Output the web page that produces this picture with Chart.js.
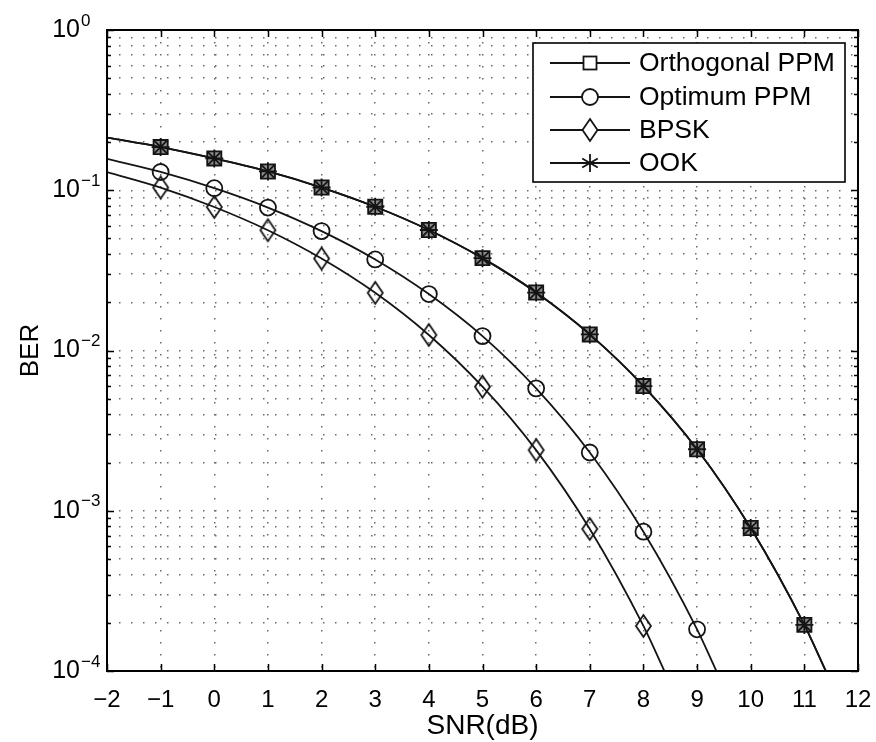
<!DOCTYPE html>
<html>
<head>
<meta charset="utf-8">
<script src="https://cdn.jsdelivr.net/npm/chart.js@4.4.1/dist/chart.umd.min.js"></script>
<style>
html,body{margin:0;padding:0;background:#fff;}
canvas{display:block;}
</style>
</head>
<body>
<canvas id="c" width="876" height="742"></canvas>
<script>
// ---------- data ----------
const snrMarkers = [-1, 0, 1, 2, 3, 4, 5, 6, 7, 8, 9, 10, 11];

const orthogonalPPM = [0.186, 0.158, 0.131, 0.104, 0.0789, 0.0565, 0.0377, 0.0230, 0.0126, 0.0060, 0.00242, 0.00078, 0.000194];
const optimumPPM    = [0.130, 0.103, 0.078, 0.0556, 0.0370, 0.0225, 0.0123, 0.0058, 0.00231, 0.00074, 0.000182];
const bpsk          = [0.104, 0.0786, 0.0563, 0.0375, 0.0229, 0.0125, 0.00595, 0.00239, 0.00077, 0.000191];
const ook           = [0.186, 0.158, 0.131, 0.104, 0.0789, 0.0565, 0.0377, 0.0230, 0.0126, 0.0060, 0.00242, 0.00078, 0.000194];

// where each curve enters (left edge) and leaves (bottom edge) the plot
const orthogonalEnds = [[-2, 0.213], [11.40, 0.0001]];
const optimumEnds    = [[-2, 0.157], [9.36, 0.0001]];
const bpskEnds       = [[-2, 0.130], [8.39, 0.0001]];
const ookEnds        = [[-2, 0.213], [11.40, 0.0001]];

const seriesNames = ['Orthogonal PPM', 'Optimum PPM', 'BPSK', 'OOK'];

const xTickValues = [-2, -1, 0, 1, 2, 3, 4, 5, 6, 7, 8, 9, 10, 11, 12];
const xTickLabels = ['\u22122', '\u22121', '0', '1', '2', '3', '4', '5', '6', '7', '8', '9', '10', '11', '12'];
const yDecades = [1, 0.1, 0.01, 0.001, 0.0001];
const yExponents = ['0', '\u22121', '\u22122', '\u22123', '\u22124'];

// ---------- build ----------
const FONT = "'Liberation Sans', Arial, Helvetica, sans-serif";
Chart.defaults.font.family = FONT;
Chart.defaults.color = '#000';

const yTickValues = [];
[0.0001, 0.001, 0.01, 0.1].forEach(d => { for (let s = 1; s <= 9; s++) yTickValues.push(+(d * s).toPrecision(3)); });
yTickValues.push(1);
const isDecade = v => Math.abs(Math.log10(v) - Math.round(Math.log10(v))) < 1e-9;

const LINE = '#141414';

function diamondCanvas(w, h, lw) {
  const c = document.createElement('canvas');
  c.width = Math.ceil(w + lw * 2 + 2); c.height = Math.ceil(h + lw * 2 + 2);
  const g = c.getContext('2d');
  const cx = c.width / 2, cy = c.height / 2;
  g.strokeStyle = LINE; g.lineWidth = lw; g.lineJoin = 'miter';
  g.beginPath();
  g.moveTo(cx, cy - h / 2); g.lineTo(cx + w / 2, cy); g.lineTo(cx, cy + h / 2); g.lineTo(cx - w / 2, cy);
  g.closePath(); g.stroke();
  return c;
}
const diamond = diamondCanvas(15, 22, 1.8);

function buildSeries(xs, ys, ends) {
  const pts = [{x: ends[0][0], y: ends[0][1]}];
  ys.forEach((v, i) => pts.push({x: xs[i], y: v}));
  pts.push({x: ends[1][0], y: ends[1][1]});
  return pts;
}
function radii(n, r) { const a = [0]; for (let i = 0; i < n; i++) a.push(r); a.push(0); return a; }

const common = {
  borderColor: LINE, borderWidth: 1.8, showLine: true, fill: false,
  cubicInterpolationMode: 'monotone', pointBorderColor: LINE, pointBorderWidth: 1.8,
  pointHoverRadius: 0, clip: 0
};

const datasets = [
  Object.assign({}, common, {
    label: seriesNames[0], data: buildSeries(snrMarkers, orthogonalPPM, orthogonalEnds),
    pointStyle: 'rect', pointRadius: radii(orthogonalPPM.length, 10), pointBackgroundColor: '#8c8c8c', order: 1
  }),
  Object.assign({}, common, {
    label: seriesNames[1], data: buildSeries(snrMarkers, optimumPPM, optimumEnds),
    pointStyle: 'circle', pointRadius: radii(optimumPPM.length, 8), pointBackgroundColor: 'rgba(0,0,0,0)', order: 1
  }),
  Object.assign({}, common, {
    label: seriesNames[2], data: buildSeries(snrMarkers, bpsk, bpskEnds),
    pointStyle: diamond, pointRadius: radii(bpsk.length, 8), pointBackgroundColor: 'rgba(0,0,0,0)', order: 1
  }),
  Object.assign({}, common, {
    label: seriesNames[3], data: buildSeries(snrMarkers, ook, ookEnds),
    pointStyle: 'star', pointRadius: radii(ook.length, 9), pointBackgroundColor: 'rgba(0,0,0,0)', order: 0
  })
];

const framePlugin = {
  id: 'frame',
  afterDraw(chart) {
    const ctx = chart.ctx, a = chart.chartArea;
    const xs = chart.scales.x, ys = chart.scales.y;
    ctx.save();
    ctx.strokeStyle = '#000'; ctx.lineWidth = 1.5; ctx.setLineDash([]);
    // inward ticks
    ctx.beginPath();
    xTickValues.forEach(v => {
      const px = Math.round(xs.getPixelForValue(v)) + 0.5;
      ctx.moveTo(px, a.bottom); ctx.lineTo(px, a.bottom - 7);
      ctx.moveTo(px, a.top); ctx.lineTo(px, a.top + 7);
    });
    yTickValues.forEach(v => {
      const py = Math.round(ys.getPixelForValue(v)) + 0.5;
      const len = isDecade(v) ? 7 : 4;
      ctx.moveTo(a.left, py); ctx.lineTo(a.left + len, py);
      ctx.moveTo(a.right, py); ctx.lineTo(a.right - len, py);
    });
    ctx.stroke();
    // box
    ctx.lineWidth = 2;
    ctx.strokeRect(a.left, a.top, a.right - a.left, a.bottom - a.top);
    // exponents of y tick labels
    ctx.fillStyle = '#000';
    ctx.font = '17px ' + FONT;
    ctx.textAlign = 'left'; ctx.textBaseline = 'middle';
    yDecades.forEach((d, k) => {
      const py = ys.getPixelForValue(d);
      ctx.fillText(yExponents[k], 81, py - 9);
    });
    // legend
    const L = {x: 533, y: 43, w: 312, h: 139};
    ctx.fillStyle = '#fff';
    ctx.fillRect(L.x, L.y, L.w, L.h);
    ctx.lineWidth = 1.6;
    ctx.strokeRect(L.x, L.y, L.w, L.h);
    const rows = [63, 97, 130, 163];
    ctx.font = '26.5px ' + FONT;
    ctx.textBaseline = 'middle';
    rows.forEach((ry, i) => {
      ctx.strokeStyle = LINE; ctx.lineWidth = 1.8;
      ctx.beginPath(); ctx.moveTo(550, ry); ctx.lineTo(630, ry); ctx.stroke();
      const mx = 590;
      if (i === 0) {
        ctx.fillStyle = '#fff'; ctx.fillRect(mx - 6.5, ry - 6.5, 13, 13);
        ctx.strokeRect(mx - 6.5, ry - 6.5, 13, 13);
      } else if (i === 1) {
        ctx.fillStyle = '#fff';
        ctx.beginPath(); ctx.arc(mx, ry, 8, 0, Math.PI * 2); ctx.fill(); ctx.stroke();
      } else if (i === 2) {
        ctx.fillStyle = '#fff';
        ctx.beginPath(); ctx.moveTo(mx, ry - 11); ctx.lineTo(mx + 7.5, ry); ctx.lineTo(mx, ry + 11); ctx.lineTo(mx - 7.5, ry); ctx.closePath();
        ctx.fill(); ctx.stroke();
      } else {
        ctx.beginPath();
        for (let k = 0; k < 3; k++) {
          const ang = Math.PI / 2 + k * Math.PI / 3;
          ctx.moveTo(mx + 9 * Math.cos(ang), ry + 9 * Math.sin(ang));
          ctx.lineTo(mx - 9 * Math.cos(ang), ry - 9 * Math.sin(ang));
        }
        ctx.stroke();
      }
      ctx.fillStyle = '#000';
      ctx.fillText(seriesNames[i], 639, ry + 1);
    });
    ctx.restore();
  }
};

new Chart(document.getElementById('c'), {
  type: 'scatter',
  data: { datasets },
  options: {
    responsive: false,
    animation: false,
    events: [],
    layout: { padding: { top: 30, right: 18, left: 0, bottom: 0 } },
    plugins: { legend: { display: false }, tooltip: { enabled: false } },
    scales: {
      x: {
        type: 'linear', min: -2, max: 12,
        afterBuildTicks: s => { s.ticks = xTickValues.map(v => ({ value: v })); },
        ticks: { callback: (v, i) => xTickLabels[i], font: { size: 24 }, color: '#000', padding: 15, maxRotation: 0, autoSkip: false },
        grid: { color: '#6a6a6a', lineWidth: 1.5, drawTicks: false },
        border: { display: false, dash: [1.5, 10.5] },
        title: { display: true, text: 'SNR(dB)', font: { size: 28 }, color: '#000', padding: { top: 0, bottom: -1 } },
        afterFit: s => { s.height = 71; s.paddingLeft = 0; s.paddingRight = 0; }
      },
      y: {
        type: 'logarithmic', min: 0.0001, max: 1,
        afterBuildTicks: s => { s.ticks = yTickValues.map(v => ({ value: v })); },
        ticks: { callback: v => (isDecade(v) ? '10' : ''), font: { size: 25 }, color: '#000', padding: 27, autoSkip: false },
        grid: { color: '#6a6a6a', lineWidth: 1.5, drawTicks: false },
        border: { display: false, dash: [1.5, 10.5] },
        title: { display: true, text: 'BER', font: { size: 26 }, color: '#000', padding: { top: 15, bottom: 0 } },
        afterFit: s => { s.width = 107; s.paddingTop = 0; s.paddingBottom = 0; }
      }
    }
  },
  plugins: [framePlugin]
});
</script>
</body>
</html>
